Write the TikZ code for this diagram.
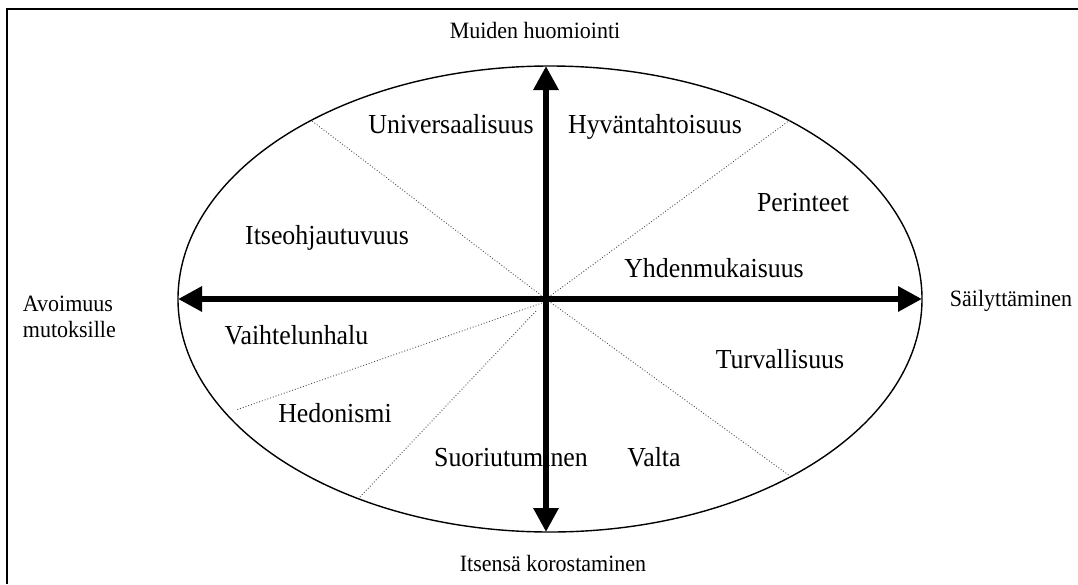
\documentclass[tikz,border=0pt]{standalone}
\usepackage{fontspec}
\setmainfont{Liberation Serif}[FakeStretch=0.94]
\usetikzlibrary{arrows.meta,shapes.geometric}
\begin{document}
\begin{tikzpicture}[x=1pt,y=-1pt,
  value/.style={font=\fontsize{27.5}{33}\selectfont, inner sep=0pt, anchor=base},
  axislabel/.style={font=\fontsize{23.4}{25.6}\selectfont, inner sep=0pt, anchor=base},
  sector/.style={draw=black!70, dotted, line width=0.9pt},
  axis/.style={line width=6pt, {Triangle[width=24pt,length=24pt]}-{Triangle[width=24pt,length=24pt]}},
  frame/.style={line width=2pt}]
\useasboundingbox (0,0) rectangle (1078,584);
% open frame: top and left edges only
\draw[frame] (7,584) -- (7,8.5) -- (1078,8.5);

% circle of values
\node[draw, ellipse, line width=1.4pt, minimum width=744pt, minimum height=466pt, inner sep=0pt] (ring) at (550,299) {};
\coordinate (o) at (546,299);
\coordinate (o4) at (536,311);
\coordinate (o5) at (542,303);

% sector boundaries
\coordinate (b1) at (312,121);
\coordinate (b2) at (790,120);
\coordinate (b3) at (790,476);
\coordinate (b4) at (359,498);
\coordinate (b5) at (236,410);
\foreach \b in {b1,b2,b3} \draw[sector] (o) -- (\b);
\draw[sector] (o4) -- (b4);
\draw[sector] (o5) -- (b5);

% values
\node[value] (univ) at (451,133) {Universaalisuus};
\node[value] (hyva) at (655,133) {Hyväntahtoisuus};
\node[value] (peri) at (803,211) {Perinteet};
\node[value] (itse) at (327,244) {Itseohjautuvuus};
\node[value] (yhde) at (714,277.5) {Yhdenmukaisuus};
\node[value] (vaih) at (296.5,344) {Vaihtelunhalu};
\node[value] (turv) at (780,368) {Turvallisuus};
\node[value] (hedo) at (335,422) {Hedonismi};
\node[value] (suor) at (511,466) {Suoriutuminen};
\node[value] (valt) at (654,466) {Valta};

% axis labels (the two-line label sits on the baseline of its last line)
\node[axislabel] (top) at (535,38.3) {Muiden huomiointi};
\node[axislabel] (bot) at (553,571.7) {Itsensä korostaminen};
\node[axislabel, align=left, anchor=base west] (left) at (22.7,337.3) {Avoimuus\\mutoksille};
\node[axislabel] (right) at (1011,306) {Säilyttäminen};

% dimensions
\coordinate (n) at (546,66);
\coordinate (s) at (546,532);
\coordinate (w) at (178,299);
\coordinate (e) at (922,299);
\draw[axis] (w) -- (e);
\draw[axis] (n) -- (s);
\end{tikzpicture}
\end{document}
